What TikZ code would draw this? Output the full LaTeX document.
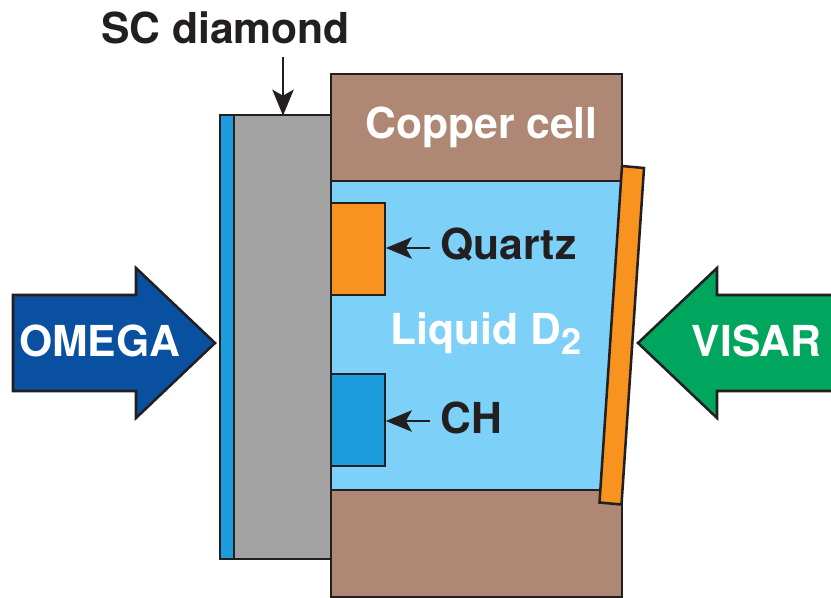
\documentclass[tikz,border=0pt]{standalone}
\usepackage{fontspec}
\setmainfont{TeX Gyre Heros}
\usetikzlibrary{arrows.meta}
\definecolor{copper}{HTML}{AE8874}
\definecolor{liquid}{HTML}{7DD0F7}
\definecolor{orangeq}{HTML}{F7931E}
\definecolor{chblue}{HTML}{1C9CDC}
\definecolor{greyd}{HTML}{A3A3A3}
\definecolor{omega}{HTML}{0A50A0}
\definecolor{visar}{HTML}{00A65E}
\definecolor{ink}{HTML}{231F20}
\tikzset{
 x=0.75pt,y=-0.75pt,
 part/.style={draw=ink,line width=1.9pt,line join=miter},
 lab/.style={font=\fontsize{32}{36}\selectfont\bfseries,text=ink,inner sep=0pt,anchor=base},
 wlab/.style={lab,text=white},
 ptr/.style={draw=ink,line width=1.7pt,-{Stealth[length=19.5pt,width=16pt,inset=4.5pt]},shorten >=-0.5pt}
}
\begin{document}
\begin{tikzpicture}
\useasboundingbox (0,0) rectangle (831,597);
\path[part,fill=liquid] (331,181) rectangle (622,490);
\path[part,fill=copper] (331,74) rectangle (622,181);
\path[part,fill=copper] (331,490) rectangle (622,597);
\path[part,fill=greyd] (234,115) rectangle (331,559);
\path[part,fill=chblue] (220,115) rectangle (234,559);
\path[part,fill=orangeq] (331,203) rectangle (385,295);
\path[part,fill=chblue] (331,374) rectangle (385,466);
\path[part,fill=orangeq] (622,166) -- (644,168) -- (621.5,504.5) -- (599.5,502.5) -- cycle;
\path[part,fill=omega] (13,295) -- (136,295) -- (136,268) -- (215,343) -- (136,418) -- (136,391) -- (13,391) -- cycle;
\path[part,fill=visar] (831,295) -- (717,295) -- (717,268) -- (638,343) -- (717,418) -- (717,391) -- (831,391);
\node[lab] (sc) at (225.5,43) {SC diamond};
\node[wlab] (cc) at (481.5,138) {Copper cell};
\node[lab] (q) at (508.5,259) {Quartz};
\node[lab] (ch) at (471,433) {CH};
\node[wlab] (ld) at (486,344) {Liquid D\raisebox{-7.5pt}{\fontsize{27}{28}\selectfont 2}};
\node[wlab] (om) at (99.5,356) {OMEGA};
\node[wlab] (vi) at (756.5,356) {VISAR};
\coordinate (scend) at (283,115);
\coordinate (scstart) at (283,57);
\coordinate (qend) at (386.5,248);
\coordinate (qstart) at (430,248);
\coordinate (chend) at (386.5,421);
\coordinate (chstart) at (430,421);
\draw[ptr] (scstart) -- (scend);
\draw[ptr] (qstart) -- (qend);
\draw[ptr] (chstart) -- (chend);
\end{tikzpicture}
\end{document}
